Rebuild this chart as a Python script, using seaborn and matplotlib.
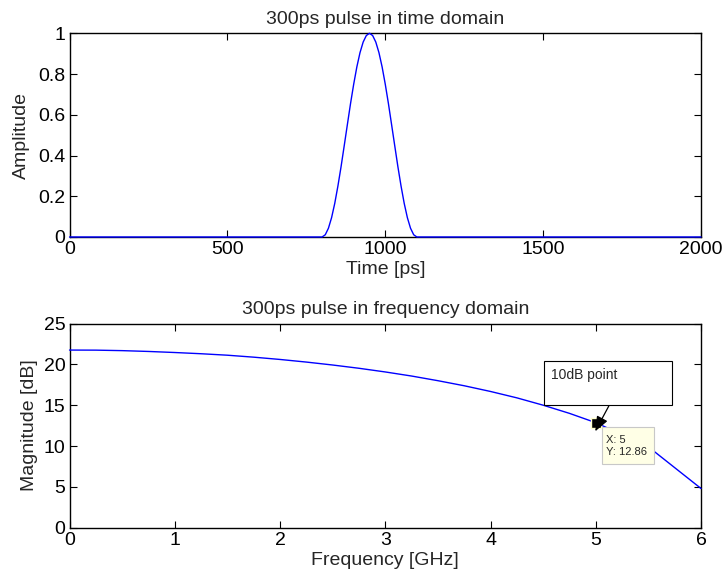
import matplotlib
matplotlib.use("Agg")
import matplotlib.pyplot as plt
import seaborn as sns
import pandas as pd
from matplotlib.patches import Rectangle

# Time-domain pulse samples (ps, normalised amplitude)
time_ps = [0, 800, 810, 820, 830, 840, 850, 860, 870, 880, 890, 900,
           910, 920, 930, 940, 950, 960, 970, 980, 990, 1000,
           1010, 1020, 1030, 1040, 1050, 1060, 1070, 1080, 1090, 1100, 2000]
amplitude = [0.0, 0.0, 0.011, 0.043, 0.095, 0.165, 0.25, 0.345, 0.448, 0.552, 0.655, 0.75,
             0.835, 0.905, 0.957, 0.989, 1.0, 0.989, 0.957, 0.905, 0.835, 0.75,
             0.655, 0.552, 0.448, 0.345, 0.25, 0.165, 0.095, 0.043, 0.011, 0.0, 0.0]

# Spectrum magnitude (GHz, dB)
freq_ghz = [0.0, 0.25, 0.5, 0.75, 1.0, 1.25, 1.5, 1.75, 2.0, 2.25, 2.5, 2.75, 3.0,
            3.25, 3.5, 3.75, 4.0, 4.25, 4.5, 4.75, 5.0, 5.25, 5.5, 5.75, 6.0]
magnitude_db = [21.75, 21.74, 21.68, 21.58, 21.45, 21.3, 21.12, 20.88, 20.6, 20.28, 19.92,
                19.52, 19.07, 18.57, 18.0, 17.38, 16.68, 15.9, 15.0, 14.0, 12.86, 11.4,
                9.9, 7.35, 4.8]

# Data cursor
tip_x = 5
tip_y = 12.86

sns.set_style("white", {"axes.edgecolor": "black"})
plt.rcParams["font.family"] = ["Liberation Sans", "DejaVu Sans"]

pulse = pd.DataFrame({"t": time_ps, "a": amplitude})
spec = pd.DataFrame({"f": freq_ghz, "m": magnitude_db})

fig = plt.figure(figsize=(7.25, 5.8), dpi=100)
ax1 = fig.add_axes([0.0959, 0.5914, 0.871, 0.3512])
ax2 = fig.add_axes([0.0959, 0.0902, 0.871, 0.352])

FS = 14
line_color = (0, 0, 1)

sns.lineplot(data=pulse, x="t", y="a", ax=ax1, color=line_color, linewidth=1.0)
sns.lineplot(data=spec, x="f", y="m", ax=ax2, color=line_color, linewidth=1.0)
for ax in (ax1, ax2):
    for ln in ax.lines:
        ln.set_clip_on(False)
        ln.set_zorder(3)

ax1.set_xlim(0, 2000)
ax1.set_ylim(0, 1)
ax1.set_xticks([0, 500, 1000, 1500, 2000])
ax1.set_xticklabels(["0", "500", "1000", "1500", "2000"])
ax1.set_yticks([0, 0.2, 0.4, 0.6, 0.8, 1.0])
ax1.set_yticklabels(["0", "0.2", "0.4", "0.6", "0.8", "1"])
ax1.set_xlabel("Time [ps]", fontsize=FS, labelpad=2)
ax1.set_ylabel("Amplitude", fontsize=FS, labelpad=6)
ax1.set_title("300ps pulse in time domain", fontsize=FS, pad=7)

ax2.set_xlim(0, 6)
ax2.set_ylim(0, 25)
ax2.set_xticks(range(0, 7))
ax2.set_yticks(range(0, 26, 5))
ax2.set_xlabel("Frequency [GHz]", fontsize=FS, labelpad=2)
ax2.set_ylabel("Magnitude [dB]", fontsize=FS, labelpad=4)
ax2.set_title("300ps pulse in frequency domain", fontsize=FS, pad=7)

for ax in (ax1, ax2):
    ax.tick_params(direction="in", length=5, width=0.8, colors="black",
                   top=True, right=True, bottom=True, left=True,
                   labelsize=FS, pad=3)
    for sp in ax.spines.values():
        sp.set_linewidth(1.0)
        sp.set_color("black")

# Text box with arrow pointing at the cursor
ax2.add_patch(Rectangle((4.51, 15.0), 1.21, 5.37, facecolor="white",
                        edgecolor="black", linewidth=0.8, zorder=4))
ax2.text(4.573, 18.74, "10dB point", fontsize=10, ha="left", va="center", zorder=5)

# Data cursor marker and readout
ax2.plot([tip_x], [tip_y], marker="s", markersize=7, color="black",
         markeredgecolor="#ffffcc", markeredgewidth=1.0, zorder=6, clip_on=False)
ax2.add_patch(Rectangle((5.06, 7.75), 0.49, 4.62, facecolor="#ffffe6",
                        edgecolor="#c8c8c8", linewidth=0.8, zorder=4))
ax2.text(5.1, 10.0, f"X: {tip_x:g}\nY: {tip_y:.2f}", fontsize=8,
         ha="left", va="center", linespacing=1.2, zorder=5)

ax2.annotate("", xy=(4.995, 11.8), xytext=(5.124, 14.9),
             arrowprops=dict(arrowstyle="-|>,head_length=0.5,head_width=0.2",
                             color="black", lw=0.9,
                             mutation_scale=18, shrinkA=0, shrinkB=0),
             zorder=8)

fig.savefig("out.png", dpi=100)
